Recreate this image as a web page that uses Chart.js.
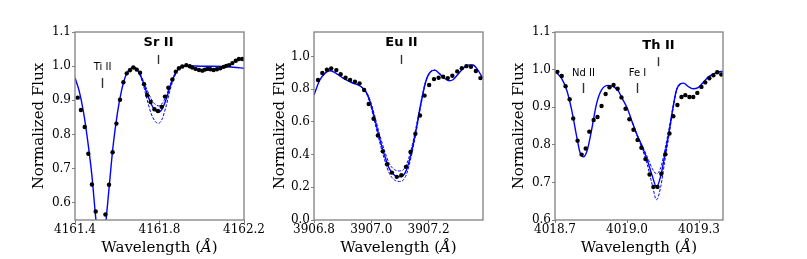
<!DOCTYPE html>
<html>
<head>
<meta charset="utf-8">
<script src="https://cdn.jsdelivr.net/npm/chart.js@4.4.0/dist/chart.umd.min.js"></script>
<style>
  html, body { margin: 0; padding: 0; background: #fff; }
  #wrap { position: relative; width: 807px; height: 259px; }
  #wrap canvas { position: absolute; left: 0; top: 0; }
</style>
</head>
<body>
<div id="wrap">
  <canvas id="sr" width="807" height="259"></canvas>
  <canvas id="eu" width="807" height="259"></canvas>
  <canvas id="th" width="807" height="259"></canvas>
</div>
<script>
// ---- Sr II panel ----
const srObsWave = [4161.413, 4161.428, 4161.446, 4161.463, 4161.480, 4161.498, 4161.544, 4161.561, 4161.578, 4161.596, 4161.613, 4161.629, 4161.645, 4161.660, 4161.676, 4161.692, 4161.708, 4161.727, 4161.742, 4161.758, 4161.776, 4161.793, 4161.810, 4161.826, 4161.842, 4161.861, 4161.877, 4161.892, 4161.908, 4161.927, 4161.943, 4161.955, 4161.971, 4161.987, 4162.003, 4162.015, 4162.028, 4162.041, 4162.056, 4162.072, 4162.088, 4162.104, 4162.116, 4162.129, 4162.145, 4162.161, 4162.176, 4162.192];
const srObsFlux = [0.908, 0.872, 0.822, 0.744, 0.654, 0.575, 0.566, 0.653, 0.748, 0.832, 0.902, 0.953, 0.979, 0.988, 0.996, 0.990, 0.981, 0.947, 0.915, 0.895, 0.874, 0.869, 0.881, 0.911, 0.937, 0.961, 0.984, 0.994, 0.999, 1.003, 1.000, 0.996, 0.992, 0.989, 0.987, 0.990, 0.992, 0.991, 0.989, 0.991, 0.994, 0.998, 1.001, 1.003, 1.009, 1.016, 1.021, 1.021];
const srFitWave = [4161.400, 4161.420, 4161.440, 4161.460, 4161.480, 4161.500, 4161.520, 4161.540, 4161.560, 4161.580, 4161.600, 4161.620, 4161.640, 4161.660, 4161.680, 4161.700, 4161.720, 4161.740, 4161.760, 4161.780, 4161.795, 4161.810, 4161.830, 4161.850, 4161.870, 4161.890, 4161.910, 4161.950, 4162.000, 4162.050, 4162.100, 4162.150, 4162.200];
const srFitFlux = [0.966, 0.927, 0.866, 0.782, 0.680, 0.545, 0.450, 0.510, 0.635, 0.765, 0.860, 0.928, 0.972, 0.992, 0.997, 0.985, 0.958, 0.922, 0.890, 0.870, 0.865, 0.872, 0.900, 0.940, 0.972, 0.992, 0.999, 1.001, 1.000, 1.000, 0.999, 0.997, 0.994];
const srModWave = [4161.680, 4161.700, 4161.720, 4161.740, 4161.760, 4161.780, 4161.795, 4161.810, 4161.830, 4161.850, 4161.870, 4161.890, 4161.910];
const srUpper = [0.997, 0.985, 0.962, 0.932, 0.905, 0.888, 0.884, 0.889, 0.910, 0.945, 0.975, 0.993, 0.999];
const srLower = [0.997, 0.984, 0.952, 0.905, 0.862, 0.838, 0.833, 0.842, 0.880, 0.930, 0.968, 0.991, 0.999];
const srXTicks = [4161.4, 4161.8, 4162.2];
const srYTicks = [0.6, 0.7, 0.8, 0.9, 1.0, 1.1];
const srLabelText = ['Sr II', 'Ti II'];
const srLabelWave = [4161.795, 4161.528];
const srLabelFlux = [1.068, 0.995];

// ---- Eu II panel ----
const euObsWave = [3906.814, 3906.829, 3906.845, 3906.860, 3906.878, 3906.893, 3906.910, 3906.926, 3906.943, 3906.959, 3906.975, 3906.991, 3907.008, 3907.023, 3907.040, 3907.055, 3907.072, 3907.089, 3907.105, 3907.121, 3907.137, 3907.154, 3907.170, 3907.186, 3907.202, 3907.219, 3907.235, 3907.251, 3907.267, 3907.283, 3907.300, 3907.316, 3907.332, 3907.348, 3907.365, 3907.381];
const euObsFlux = [0.856, 0.899, 0.919, 0.927, 0.917, 0.892, 0.870, 0.856, 0.846, 0.836, 0.795, 0.710, 0.619, 0.517, 0.420, 0.341, 0.290, 0.264, 0.274, 0.325, 0.416, 0.527, 0.639, 0.761, 0.826, 0.862, 0.870, 0.876, 0.868, 0.882, 0.909, 0.929, 0.941, 0.937, 0.911, 0.868];
const euFitWave = [3906.800, 3906.820, 3906.840, 3906.855, 3906.870, 3906.900, 3906.935, 3906.965, 3906.982, 3906.995, 3907.010, 3907.028, 3907.046, 3907.063, 3907.081, 3907.098, 3907.110, 3907.123, 3907.139, 3907.156, 3907.173, 3907.191, 3907.208, 3907.222, 3907.237, 3907.254, 3907.272, 3907.285, 3907.301, 3907.324, 3907.341, 3907.355, 3907.370, 3907.390];
const euFitFlux = [0.765, 0.855, 0.900, 0.913, 0.905, 0.870, 0.838, 0.815, 0.782, 0.728, 0.632, 0.507, 0.396, 0.314, 0.274, 0.264, 0.270, 0.308, 0.406, 0.548, 0.710, 0.852, 0.909, 0.917, 0.897, 0.868, 0.852, 0.858, 0.888, 0.933, 0.949, 0.948, 0.923, 0.865];
const euModWave = [3906.965, 3906.982, 3906.995, 3907.010, 3907.028, 3907.046, 3907.063, 3907.081, 3907.098, 3907.110, 3907.123, 3907.139, 3907.156, 3907.173, 3907.191, 3907.208, 3907.222];
const euUpper = [0.816, 0.786, 0.738, 0.650, 0.530, 0.425, 0.345, 0.308, 0.300, 0.305, 0.340, 0.430, 0.565, 0.720, 0.856, 0.910, 0.917];
const euLower = [0.814, 0.778, 0.718, 0.612, 0.485, 0.370, 0.285, 0.245, 0.236, 0.242, 0.280, 0.385, 0.532, 0.700, 0.848, 0.908, 0.917];
const euXTicks = [3906.8, 3907.0, 3907.2];
const euYTicks = [0.0, 0.2, 0.4, 0.6, 0.8, 1.0];
const euLabelText = ['Eu II'];
const euLabelWave = [3907.105];
const euLabelFlux = [1.083];

// ---- Th II panel ----
const thObsWave = [4018.710, 4018.728, 4018.744, 4018.761, 4018.776, 4018.794, 4018.811, 4018.828, 4018.843, 4018.861, 4018.877, 4018.894, 4018.911, 4018.927, 4018.944, 4018.961, 4018.977, 4018.994, 4019.010, 4019.027, 4019.044, 4019.060, 4019.077, 4019.094, 4019.110, 4019.127, 4019.143, 4019.160, 4019.177, 4019.193, 4019.210, 4019.227, 4019.243, 4019.260, 4019.276, 4019.293, 4019.310, 4019.326, 4019.343, 4019.360, 4019.376, 4019.393];
const thObsFlux = [0.994, 0.983, 0.956, 0.921, 0.870, 0.811, 0.774, 0.790, 0.835, 0.866, 0.874, 0.903, 0.935, 0.953, 0.959, 0.949, 0.926, 0.896, 0.868, 0.840, 0.813, 0.792, 0.762, 0.721, 0.688, 0.688, 0.723, 0.775, 0.830, 0.876, 0.906, 0.927, 0.932, 0.927, 0.927, 0.938, 0.954, 0.966, 0.977, 0.985, 0.993, 0.987];
const thFitWave = [4018.700, 4018.728, 4018.749, 4018.770, 4018.791, 4018.804, 4018.818, 4018.834, 4018.852, 4018.873, 4018.894, 4018.922, 4018.945, 4018.963, 4018.981, 4019.002, 4019.022, 4019.043, 4019.064, 4019.085, 4019.105, 4019.123, 4019.141, 4019.157, 4019.175, 4019.192, 4019.206, 4019.222, 4019.236, 4019.255, 4019.275, 4019.296, 4019.316, 4019.338, 4019.359, 4019.380, 4019.400];
const thFitFlux = [0.995, 0.976, 0.945, 0.891, 0.820, 0.780, 0.768, 0.785, 0.838, 0.909, 0.946, 0.958, 0.954, 0.944, 0.922, 0.896, 0.860, 0.825, 0.794, 0.758, 0.718, 0.688, 0.718, 0.771, 0.834, 0.900, 0.945, 0.962, 0.964, 0.955, 0.949, 0.952, 0.965, 0.980, 0.988, 0.994, 0.995];
const thModWave = [4019.022, 4019.043, 4019.064, 4019.085, 4019.105, 4019.123, 4019.141, 4019.157, 4019.175, 4019.192, 4019.206, 4019.222];
const thUpper = [0.860, 0.826, 0.797, 0.767, 0.737, 0.723, 0.740, 0.785, 0.842, 0.903, 0.946, 0.962];
const thLower = [0.860, 0.822, 0.788, 0.746, 0.694, 0.654, 0.690, 0.755, 0.825, 0.895, 0.944, 0.962];
const thXTicks = [4018.7, 4019.0, 4019.3];
const thYTicks = [0.6, 0.7, 0.8, 0.9, 1.0, 1.1];
const thLabelText = ['Th II', 'Nd II', 'Fe I'];
const thLabelWave = [4019.130, 4018.817, 4019.042];
const thLabelFlux = [1.065, 0.991, 0.991];

const pts = (xs, ys) => xs.map((x, i) => ({x: x, y: ys[i]}));
const BLUE = '#0000ff';
const GREY = '#808080';
const TITLE_PX = 15;

// frame, line labels and the x title with an italic Å
const panelDecor = {
  id: 'panelDecor',
  afterDatasetsDraw(chart, args, opts) {
    const {ctx, chartArea: a, scales: {x, y}} = chart;
    ctx.save();
    ctx.strokeStyle = GREY;
    ctx.lineWidth = 1.3;
    ctx.strokeRect(a.left, a.top, a.right - a.left, a.bottom - a.top);

    ctx.fillStyle = '#000';
    ctx.textAlign = 'center';
    ctx.textBaseline = 'middle';
    opts.text.forEach((t, i) => {
      const bold = i === 0;
      const px = Math.round(x.getPixelForValue(opts.wave[i])) + 0.5;
      const py = y.getPixelForValue(opts.flux[i]);
      ctx.font = bold ? 'bold 13px "DejaVu Sans"' : '10px "DejaVu Sans"';
      ctx.fillText(t, px, py);
      ctx.strokeStyle = '#333';
      ctx.lineWidth = 1.4;
      ctx.beginPath();
      ctx.moveTo(px, py + (bold ? 12 : 10));
      ctx.lineTo(px, py + (bold ? 21 : 20));
      ctx.stroke();
    });

    // x axis title
    const parts = [['Wavelength (', ''], ['Å', 'italic '], [')', '']];
    let total = 0;
    parts.forEach(p => { ctx.font = p[1] + TITLE_PX + 'px "DejaVu Serif"'; total += ctx.measureText(p[0]).width; });
    let cx = (a.left + a.right) / 2 - total / 2;
    ctx.textAlign = 'left';
    parts.forEach(p => {
      ctx.font = p[1] + TITLE_PX + 'px "DejaVu Serif"';
      ctx.fillText(p[0], cx, 248);
      cx += ctx.measureText(p[0]).width;
    });
    ctx.restore();
  }
};

function makePanel(id, c) {
  new Chart(document.getElementById(id), {
    type: 'scatter',
    data: {
      datasets: [
        { data: pts(c.obsWave, c.obsFlux), pointRadius: 2.2, pointBackgroundColor: '#000', pointBorderWidth: 0 },
        { data: pts(c.fitWave, c.fitFlux), showLine: true, borderColor: BLUE, borderWidth: 1.4, pointRadius: 0, cubicInterpolationMode: 'monotone' },
        { data: pts(c.modWave, c.upper), showLine: true, borderColor: BLUE, borderWidth: 1, borderDash: [3, 1.5], pointRadius: 0, cubicInterpolationMode: 'monotone' },
        { data: pts(c.modWave, c.lower), showLine: true, borderColor: BLUE, borderWidth: 1, borderDash: [3, 1.5], pointRadius: 0, cubicInterpolationMode: 'monotone' }
      ]
    },
    options: {
      responsive: false,
      animation: false,
      events: [],
      layout: { padding: { left: c.left - c.yw, right: 807 - c.right, top: 32, bottom: 0 } },
      plugins: {
        legend: { display: false },
        tooltip: { enabled: false },
        panelDecor: { text: c.labelText, wave: c.labelWave, flux: c.labelFlux }
      },
      scales: {
        x: {
          type: 'linear',
          min: c.xMin, max: c.xMax,
          afterBuildTicks: s => { s.ticks = c.xTicks.map(v => ({value: v})); },
          afterFit: s => { s.height = 39; s.paddingLeft = 0; s.paddingRight = 0; },
          grid: { drawOnChartArea: false, drawTicks: true, tickLength: 3, color: GREY },
          border: { display: false },
          ticks: { autoSkip: false, maxRotation: 0, padding: 0, color: '#000', font: { family: 'DejaVu Serif', size: 12 }, callback: v => v.toFixed(1) }
        },
        y: {
          min: c.yMin, max: c.yMax,
          afterBuildTicks: s => { s.ticks = c.yTicks.map(v => ({value: v})); },
          afterFit: s => { s.width = c.yw; s.paddingTop = 0; s.paddingBottom = 0; },
          grid: { drawOnChartArea: false, drawTicks: true, tickLength: 3, color: GREY },
          border: { display: false },
          ticks: { autoSkip: false, padding: 1, color: '#000', font: { family: 'DejaVu Serif', size: 12 }, callback: v => v.toFixed(1) },
          title: { display: true, text: 'Normalized Flux', color: '#000', padding: 0, font: { family: 'DejaVu Serif', size: TITLE_PX } }
        }
      }
    },
    plugins: [panelDecor]
  });
}

makePanel('sr', {
  obsWave: srObsWave, obsFlux: srObsFlux, fitWave: srFitWave, fitFlux: srFitFlux,
  modWave: srModWave, upper: srUpper, lower: srLower,
  xTicks: srXTicks, yTicks: srYTicks, labelText: srLabelText, labelWave: srLabelWave, labelFlux: srLabelFlux,
  xMin: 4161.4, xMax: 4162.2, yMin: 0.55, yMax: 1.1,
  left: 75, right: 244, yw: 45
});
makePanel('eu', {
  obsWave: euObsWave, obsFlux: euObsFlux, fitWave: euFitWave, fitFlux: euFitFlux,
  modWave: euModWave, upper: euUpper, lower: euLower,
  xTicks: euXTicks, yTicks: euYTicks, labelText: euLabelText, labelWave: euLabelWave, labelFlux: euLabelFlux,
  xMin: 3906.8, xMax: 3907.39, yMin: 0.0, yMax: 1.15,
  left: 314, right: 483, yw: 43
});
makePanel('th', {
  obsWave: thObsWave, obsFlux: thObsFlux, fitWave: thFitWave, fitFlux: thFitFlux,
  modWave: thModWave, upper: thUpper, lower: thLower,
  xTicks: thXTicks, yTicks: thYTicks, labelText: thLabelText, labelWave: thLabelWave, labelFlux: thLabelFlux,
  xMin: 4018.7, xMax: 4019.4, yMin: 0.6, yMax: 1.1,
  left: 555, right: 723, yw: 45
});
</script>
</body>
</html>
